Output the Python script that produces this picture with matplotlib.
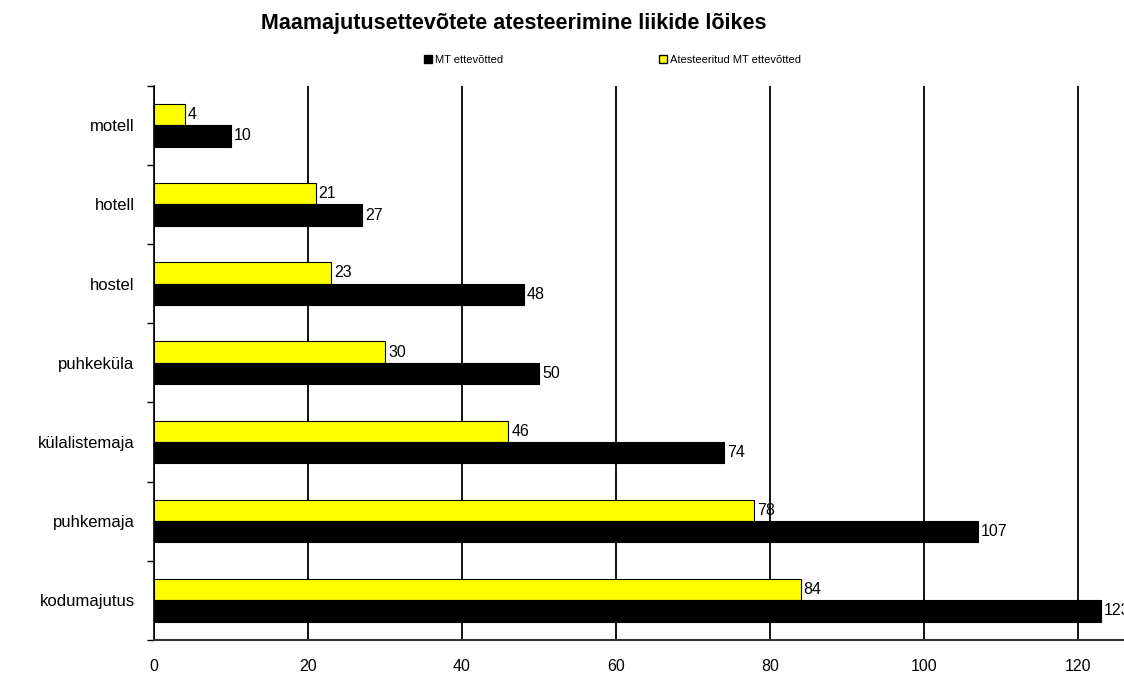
import numpy as np
import matplotlib.pyplot as plt
from matplotlib.patches import Patch

# ============================================================
# Data
# ============================================================
categories = ["motell", "hotell", "hostel", "puhkeküla", "külalistemaja", "puhkemaja", "kodumajutus"]
mt_total = [10, 27, 48, 50, 74, 107, 123]
mt_attested = [4, 21, 23, 30, 46, 78, 84]
x_ticks = [0, 20, 40, 60, 80, 100, 120]

plt.rcParams["font.family"] = ["Liberation Sans", "DejaVu Sans"]

fig = plt.figure(figsize=(11.24, 6.80), dpi=100)
ax = fig.add_axes([0.137, 0.059, 0.863, 0.815])

n = len(categories)
y = np.arange(n)
h = 0.27

ax.barh(y - h / 2, mt_attested, height=h, color="#ffff00", edgecolor="black", linewidth=0.8, zorder=3)
ax.barh(y + h / 2, mt_total, height=h, color="black", edgecolor="black", linewidth=0.8, zorder=3)

for i in range(n):
    ax.text(mt_attested[i] + 0.4, y[i] - h / 2, str(mt_attested[i]), va="center", ha="left", fontsize=11.5, zorder=4)
    ax.text(mt_total[i] + 0.4, y[i] + h / 2, str(mt_total[i]), va="center", ha="left", fontsize=11.5, zorder=4)

ax.set_ylim(n - 0.5, -0.5)
ax.set_xlim(0, 126)
ax.set_yticks(y)
ax.set_yticklabels(categories, fontsize=12)
ax.set_yticks(np.arange(-0.5, n, 1), minor=True)
ax.tick_params(axis="y", which="major", length=0, pad=14)
ax.tick_params(axis="y", which="minor", length=5, direction="out", width=1)

ax.set_xticks(x_ticks)
ax.set_xticklabels([str(t) for t in x_ticks], fontsize=11.5)
ax.tick_params(axis="x", length=0, pad=14)
ax.grid(axis="x", color="black", linewidth=1.3, zorder=0)

for side in ["top", "right"]:
    ax.spines[side].set_visible(False)
ax.spines["left"].set_linewidth(1.2)
ax.spines["bottom"].set_linewidth(1.5)
ax.spines["bottom"].set_color("#333333")

fig.text(0.457, 0.965, "Maamajutusettevõtete atesteerimine liikide lõikes",
         ha="center", va="center", fontsize=15.5, fontweight="bold")

handles = [Patch(facecolor="black", edgecolor="black"),
           Patch(facecolor="#ffff00", edgecolor="black")]
fig.legend(handles, ["MT ettevõtted", "Atesteeritud MT ettevõtted"],
           loc="center", bbox_to_anchor=(0.545, 0.912), ncol=2, frameon=False,
           fontsize=8, handlelength=0.7, handleheight=0.7, handletextpad=0.3,
           columnspacing=14)

fig.savefig("out.png", dpi=100)
